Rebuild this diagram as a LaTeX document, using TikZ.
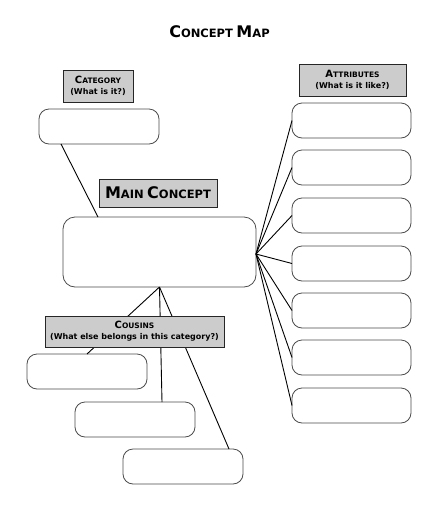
\documentclass[tikz,border=0pt]{standalone}
\usepackage{fontspec}
\setmainfont{DejaVu Sans}
\usetikzlibrary{calc}
\tikzset{
  blank/.style={draw=black!70, line width=0.8pt, rounded corners=10pt, anchor=north west,
    inner sep=0pt, outer sep=0pt, fill=white, minimum width=#1, minimum height=35pt},
  blank/.default=120pt,
  tag/.style={draw=black!85, line width=1pt, fill=black!20, anchor=north west,
    inner sep=0pt, outer sep=0pt, align=center, font=\bfseries},
  link/.style={line width=0.9pt, draw=black},
}
\newcommand\bigcaps[2]{{\fontsize{16}{18}\selectfont #1}{\fontsize{11.5}{14}\selectfont #2}}
\newcommand\smlcaps[2]{{\fontsize{10}{12}\selectfont #1}{\fontsize{7.5}{10}\selectfont #2}}
\newcommand\qsize{\fontsize{8}{13.5}\selectfont}
\begin{document}
\begin{tikzpicture}[x=1pt,y=-1pt]
\useasboundingbox (0,0) rectangle (440,531);
% title
\node[font=\bfseries] (title) at (219.5,32) {\bigcaps{C}{ONCEPT} \bigcaps{M}{AP}};
% blank boxes
\node[blank] (cat) at (39,109) {};
\node[blank, rounded corners=12pt, minimum width=193pt, minimum height=70pt] (main) at (63,217) {};
\foreach \i/\y in {1/103,2/150,3/198,4/246,5/293,6/340,7/388}{
  \node[blank=119pt] (a\i) at (292,\y) {};
}
\node[blank] (c1) at (27,354) {};
\node[blank] (c2) at (75,402) {};
\node[blank] (c3) at (123,449) {};
% connectors
\draw[link] ($(cat.south west)+(22,0)$) -- ($(main.north west)+(35,0)$);
\foreach \i in {1,...,7}{
  \draw[link] ($(main.east)+(0,2)$) -- (a\i.west);
}
\draw[link] (main.south) -- (c1.north);
\draw[link] (main.south) -- ($(c2.north)+(27,0)$);
\draw[link] (main.south) -- ($(c3.north east)+(-14,0)$);
% labels
\node[tag, minimum width=70pt, minimum height=32pt] (catlbl) at (63,70)
  {\smlcaps{C}{ATEGORY}\\[-1pt]{\qsize (What is it?)}};
\node[tag, minimum width=118pt, minimum height=28pt] (mainlbl) at (99,179)
  {\bigcaps{M}{AIN} \bigcaps{C}{ONCEPT}};
\node[tag, minimum width=107pt, minimum height=32pt] (attrlbl) at (299,64)
  {\smlcaps{A}{TTRIBUTES}\\[-1pt]{\qsize (What is it like?)}};
\node[tag, minimum width=179pt, minimum height=31pt] (coulbl) at (45,316)
  {\smlcaps{C}{OUSINS}\\[-1pt]{\qsize (What else belongs in this category?)}};
\end{tikzpicture}
\end{document}
